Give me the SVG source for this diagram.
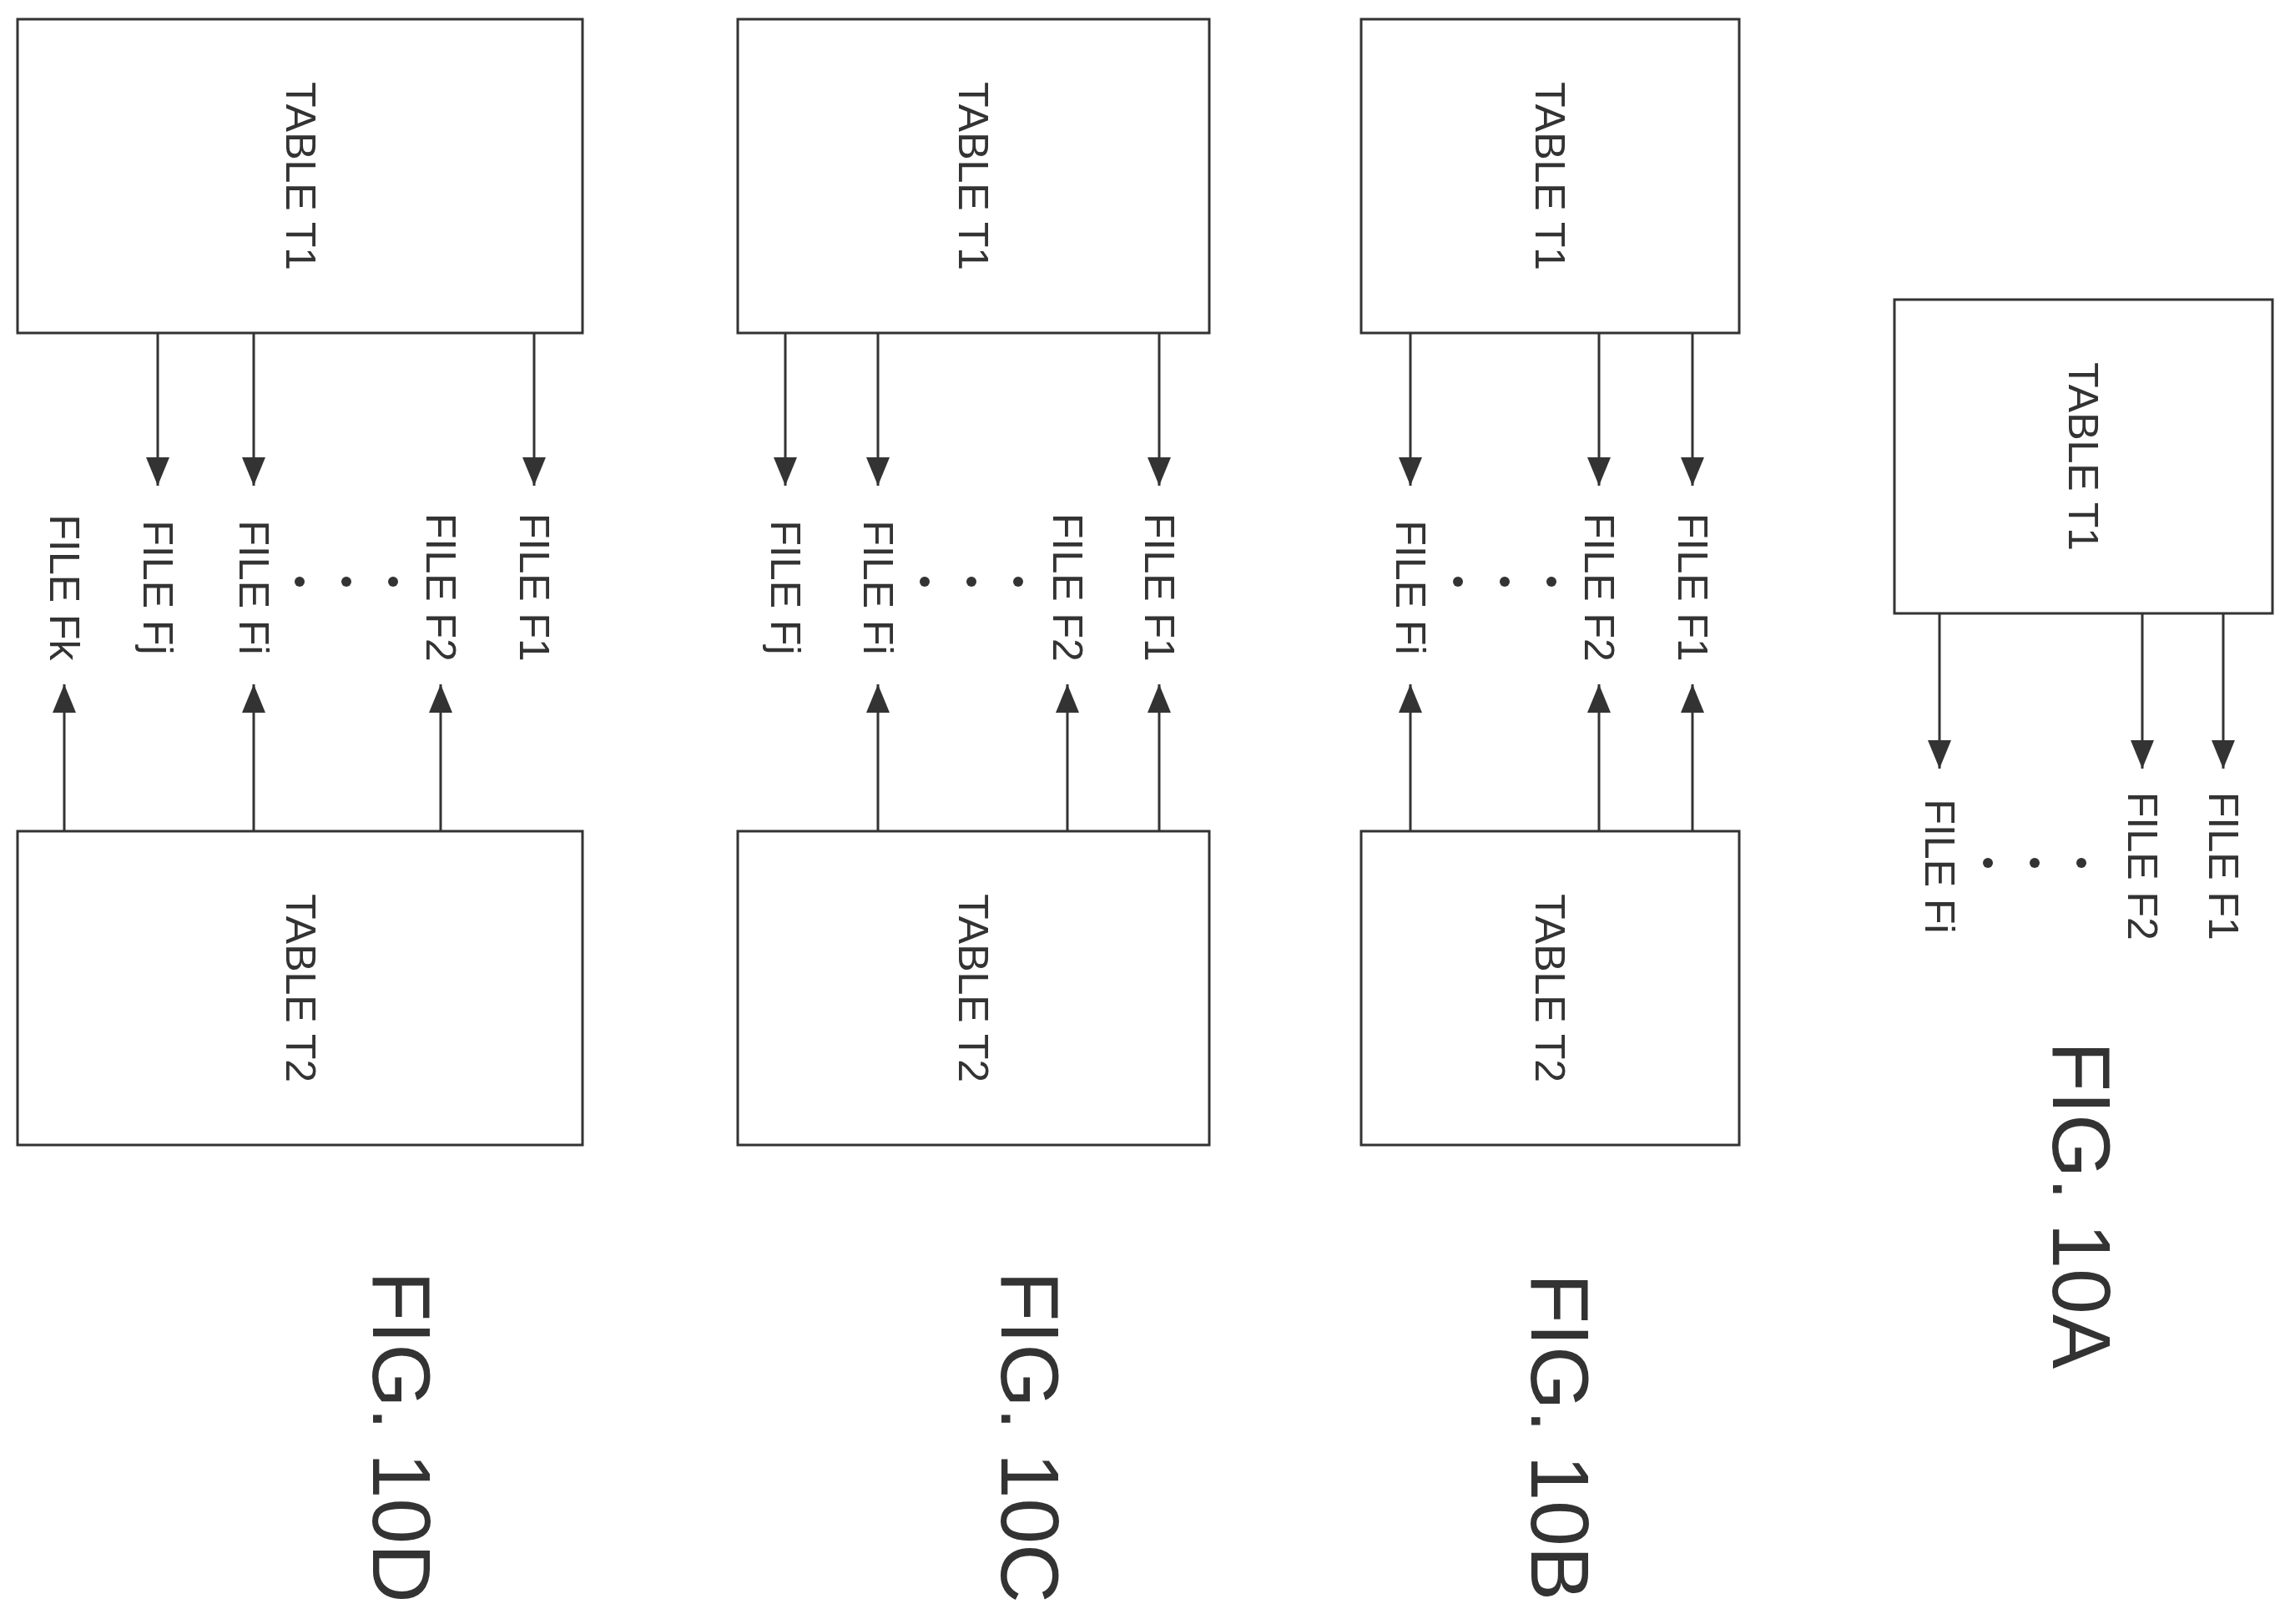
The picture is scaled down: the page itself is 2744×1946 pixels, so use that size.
<svg xmlns="http://www.w3.org/2000/svg" width="2744" height="1946" viewBox="0 0 2744 1946">
<style>
.box{fill:#fff;stroke:#333;stroke-width:3}
.ln{stroke:#333;stroke-width:3;fill:none;marker-end:url(#ahb)}
.t{font-family:"Liberation Sans",Arial,sans-serif;font-size:50px;fill:#333;text-anchor:middle;dominant-baseline:central}
.fig{font-family:"Liberation Sans",Arial,sans-serif;font-size:98px;fill:#333;text-anchor:middle;dominant-baseline:central}
.dot{fill:#333}
</style>
<defs>
<marker id="ahb" viewBox="0 0 34 28" refX="34" refY="14" markerWidth="34" markerHeight="28" markerUnits="userSpaceOnUse" orient="auto"><path d="M0,0L34,14L0,28z" fill="#333"/></marker></defs>
<!-- FIG 10D -->
<g id="d-t1"><rect class="box" x="21" y="23" width="677" height="376"/><text class="t" transform="translate(360,211) rotate(90)">TABLE T1</text></g>
<g id="d-t2"><rect class="box" x="21" y="996" width="677" height="376"/><text class="t" transform="translate(360,1184) rotate(90)">TABLE T2</text></g>
<g id="d-files">
<text class="t" transform="translate(77,704) rotate(90)">FILE Fk</text>
<text class="t" transform="translate(189,704) rotate(90)">FILE Fj</text>
<text class="t" transform="translate(304,704) rotate(90)">FILE Fi</text>
<text class="t" transform="translate(528,704) rotate(90)">FILE F2</text>
<text class="t" transform="translate(640,704) rotate(90)">FILE F1</text>
<circle class="dot" cx="359" cy="697" r="6"/><circle class="dot" cx="415" cy="697" r="6"/><circle class="dot" cx="471" cy="697" r="6"/>
</g>
<g id="d-fig"><text class="fig" transform="translate(481,1722) rotate(90)">FIG. 10D</text></g>
<!-- FIG 10C -->
<g id="c-t1"><rect class="box" x="884" y="23" width="565" height="376"/><text class="t" transform="translate(1166,211) rotate(90)">TABLE T1</text></g>
<g id="c-t2"><rect class="box" x="884" y="996" width="565" height="376"/><text class="t" transform="translate(1166,1184) rotate(90)">TABLE T2</text></g>
<g id="c-files">
<text class="t" transform="translate(941,704) rotate(90)">FILE Fj</text>
<text class="t" transform="translate(1052,704) rotate(90)">FILE Fi</text>
<text class="t" transform="translate(1279,704) rotate(90)">FILE F2</text>
<text class="t" transform="translate(1389,704) rotate(90)">FILE F1</text>
<circle class="dot" cx="1108" cy="697" r="6"/><circle class="dot" cx="1164" cy="697" r="6"/><circle class="dot" cx="1220" cy="697" r="6"/>
</g>
<g id="c-fig"><text class="fig" transform="translate(1234,1722) rotate(90)">FIG. 10C</text></g>
<!-- FIG 10B -->
<g id="b-t1"><rect class="box" x="1631" y="23" width="453" height="376"/><text class="t" transform="translate(1857,211) rotate(90)">TABLE T1</text></g>
<g id="b-t2"><rect class="box" x="1631" y="996" width="453" height="376"/><text class="t" transform="translate(1857,1184) rotate(90)">TABLE T2</text></g>
<g id="b-files">
<text class="t" transform="translate(1690,704) rotate(90)">FILE Fi</text>
<text class="t" transform="translate(1916,704) rotate(90)">FILE F2</text>
<text class="t" transform="translate(2028,704) rotate(90)">FILE F1</text>
<circle class="dot" cx="1747" cy="697" r="6"/><circle class="dot" cx="1803" cy="697" r="6"/><circle class="dot" cx="1859" cy="697" r="6"/>
</g>
<g id="b-fig"><text class="fig" transform="translate(1869,1722) rotate(90)">FIG. 10B</text></g>
<!-- FIG 10A -->
<g id="a-t1"><rect class="box" x="2270" y="359" width="453" height="376"/><text class="t" transform="translate(2496,547) rotate(90)">TABLE T1</text></g>
<g id="a-files">
<text class="t" transform="translate(2324,1038) rotate(90)">FILE Fi</text>
<text class="t" transform="translate(2567,1038) rotate(90)">FILE F2</text>
<text class="t" transform="translate(2664,1038) rotate(90)">FILE F1</text>
<circle class="dot" cx="2382" cy="1034" r="6"/><circle class="dot" cx="2438" cy="1034" r="6"/><circle class="dot" cx="2494" cy="1034" r="6"/>
</g>
<g id="a-fig"><text class="fig" transform="translate(2494,1444) rotate(90)">FIG. 10A</text></g>
<g id="connectors">
<line class="ln" x1="189" y1="399" x2="189" y2="582"/><line class="ln" x1="304" y1="399" x2="304" y2="582"/><line class="ln" x1="640" y1="399" x2="640" y2="582"/>
<line class="ln" x1="77" y1="996" x2="77" y2="820"/><line class="ln" x1="304" y1="996" x2="304" y2="820"/><line class="ln" x1="528" y1="996" x2="528" y2="820"/>
<line class="ln" x1="941" y1="399" x2="941" y2="582"/><line class="ln" x1="1052" y1="399" x2="1052" y2="582"/><line class="ln" x1="1389" y1="399" x2="1389" y2="582"/>
<line class="ln" x1="1052" y1="996" x2="1052" y2="820"/><line class="ln" x1="1279" y1="996" x2="1279" y2="820"/><line class="ln" x1="1389" y1="996" x2="1389" y2="820"/>
<line class="ln" x1="1690" y1="399" x2="1690" y2="582"/><line class="ln" x1="1916" y1="399" x2="1916" y2="582"/><line class="ln" x1="2028" y1="399" x2="2028" y2="582"/>
<line class="ln" x1="1690" y1="996" x2="1690" y2="820"/><line class="ln" x1="1916" y1="996" x2="1916" y2="820"/><line class="ln" x1="2028" y1="996" x2="2028" y2="820"/>
<line class="ln" x1="2324" y1="735" x2="2324" y2="921"/><line class="ln" x1="2567" y1="735" x2="2567" y2="921"/><line class="ln" x1="2664" y1="735" x2="2664" y2="921"/>
</g>
</svg>
